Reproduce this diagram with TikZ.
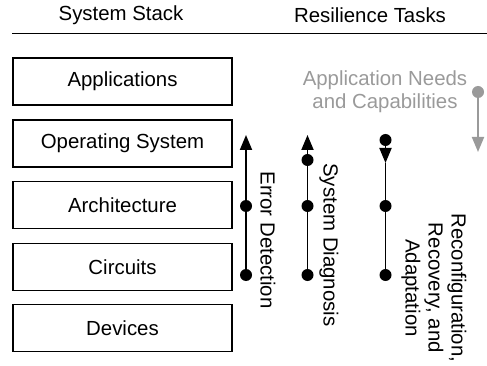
\documentclass[tikz,border=0pt]{standalone}
\usepackage{fontspec}
\setmainfont{Liberation Sans}
\usetikzlibrary{arrows.meta}
\definecolor{softgray}{HTML}{9A9A9A}
\tikzset{
  layer/.style={draw, line width=1.9pt, minimum width=219pt, minimum height=47pt, inner sep=0pt, font=\fontsize{20.4}{24}\selectfont},
  head/.style={font=\fontsize{20.4}{24}\selectfont},
  task/.style={font=\fontsize{20.4}{24}\selectfont, rotate=-90, align=center},
  dot/.style={circle, fill, inner sep=0pt, minimum size=12pt},
  flow/.style={line width=1.9pt},
  tip/.style={-{Triangle[width=12pt,length=15pt]}}
}
\begin{document}
\begin{tikzpicture}[x=1pt,y=-1pt]
\useasboundingbox (0,0) rectangle (487,366);

% column headings and rule
\node[head] (hs) at (121,15) {System Stack};
\node[head] (ht) at (370,15) {Resilience Tasks};
\coordinate (rl) at (12,33.5);
\coordinate (rr) at (487,33.5);
\draw[line width=1.9pt] (rl) -- (rr);

% system stack
\node[layer] (app) at (122.5,81.5) {Applications};
\node[layer] (os)  at (122.5,143.5) {Operating System};
\node[layer] (arch) at (122.5,205) {Architecture};
\node[layer] (circ) at (122.5,267) {Circuits};
\node[layer] (dev) at (122.5,328) {Devices};

% application needs (gray)
\node[head, text=softgray, align=center] (needs) at (385,91.5) {Application Needs\\[-1pt]and Capabilities};
\node[dot, fill=softgray] (g0) at (478,92) {};
\coordinate (g1) at (478,152);
\draw[flow, tip, draw=softgray, fill=softgray] (g0.center) -- (g1);

% error detection
\coordinate (e0) at (246,135);
\node[dot] (e1) at (246,206) {};
\node[dot] (e2) at (246,275) {};
\draw[flow, tip] (e2.center) -- (e0);
\node[task] (et) at (268,240) {Error Detection};

% system diagnosis
\coordinate (s0) at (307.5,135);
\node[dot] (s1) at (307.5,160) {};
\node[dot] (s2) at (307.5,206) {};
\node[dot] (s3) at (307.5,275) {};
\draw[flow, tip] (s3.center) -- (s0);
\node[task] (st) at (329,245) {System Diagnosis};

% reconfiguration, recovery and adaptation
\node[dot] (r0) at (385.5,140) {};
\coordinate (r1) at (385.5,163);
\node[dot] (r2) at (385.5,206) {};
\node[dot] (r3) at (385.5,275) {};
\draw[flow, tip] (r0.center) -- (r1);
\draw[flow] (r1) -- (r3.center);
\node[task] (rt) at (434,288) {Reconfiguration,\\[-1pt]Recovery, and\\[-1pt]Adaptation};
\end{tikzpicture}
\end{document}
